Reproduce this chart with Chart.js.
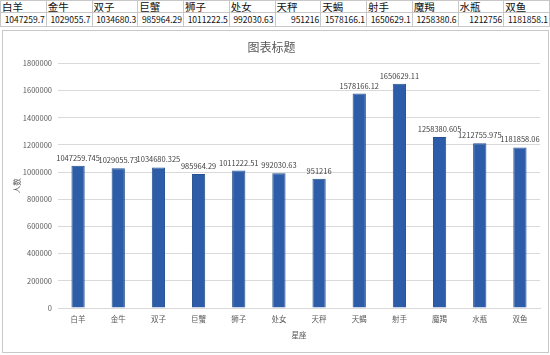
<!DOCTYPE html>
<html>
<head>
<meta charset="utf-8">
<script src="https://cdn.jsdelivr.net/npm/chart.js@4"></script>
<style>
body { margin: 0; background: #fff; width: 550px; height: 355px; overflow: hidden; font-family: "Noto Sans CJK SC", sans-serif; }
#tbl { position: absolute; left: 0; top: 0; border-collapse: collapse; table-layout: fixed; width: 550px; }
#tbl td { border: 1px solid #c8c8c8; padding: 0 1px; font-size: 10.5px; line-height: 11px; height: 11px; white-space: nowrap; overflow: hidden; color: #111; }
#tbl tr.v td { text-align: right; font-size: 8.5px; height: 13px; }
#box { position: absolute; left: 2px; top: 30px; width: 545px; height: 321px; border: 1px solid #c8c8c8; }
</style>
</head>
<body>
<table id="tbl"><tr id="hd"></tr><tr class="v" id="vl"></tr></table>
<div id="box"><canvas id="myChart" width="545" height="321"></canvas></div>
<script>
var signs = ["白羊", "金牛", "双子", "巨蟹", "狮子", "处女", "天秤", "天蝎", "射手", "魔羯", "水瓶", "双鱼"];
var people = [1047259.745, 1029055.73, 1034680.325, 985964.29, 1011222.51, 992030.63, 951216, 1578166.12, 1650629.11, 1258380.605, 1212755.975, 1181858.06];
var tableVals = ["1047259.7", "1029055.7", "1034680.3", "985964.29", "1011222.5", "992030.63", "951216", "1578166.1", "1650629.1", "1258380.6", "1212756", "1181858.1"];

var hd = document.getElementById("hd");
var vl = document.getElementById("vl");
for (var i = 0; i < signs.length; i++) {
	var a = document.createElement("td");
	a.textContent = signs[i];
	hd.appendChild(a);
	var b = document.createElement("td");
	b.textContent = tableVals[i];
	vl.appendChild(b);
}

// value labels above the bars
var barLabels = {
	id: "barLabels",
	afterDatasetsDraw: function (chart) {
		var ctx = chart.ctx;
		var meta = chart.getDatasetMeta(0);
		ctx.save();
		ctx.font = "7.5px 'Noto Sans CJK SC', sans-serif";
		ctx.fillStyle = "#404040";
		ctx.textAlign = "center";
		ctx.textBaseline = "bottom";
		meta.data.forEach(function (bar, i) {
			ctx.fillText(String(people[i]), bar.x, bar.y - 4);
		});
		ctx.restore();
	}
};

var tickFont = { family: "'Noto Sans CJK SC', sans-serif", size: 7.5 };

new Chart("myChart", {
	type: "bar",
	data: {
		labels: signs,
		datasets: [
			{
				backgroundColor: "#2d5ca8",
				borderColor: "#24508f",
				borderWidth: 1,
				data: people,
				barPercentage: 0.33,
				categoryPercentage: 1
			}
		]
	},
	options: {
		responsive: false,
		animation: false,
		layout: { padding: { left: 0, right: 8, top: 0, bottom: 0 } },
		plugins: {
			legend: { display: false },
			tooltip: { enabled: false },
			title: {
				display: true,
				text: "图表标题",
				color: "#595959",
				font: { family: "'Noto Sans CJK SC', sans-serif", size: 12, weight: "normal" },
				padding: { top: 9, bottom: 9 }
			}
		},
		scales: {
			x: {
				afterFit: function (s) { s.height = 44; },
				grid: { display: false, drawTicks: false },
				border: { color: "#d9d9d9" },
				ticks: { color: "#595959", font: tickFont, padding: 7, maxRotation: 0, autoSkip: false },
				title: { display: true, text: "星座", color: "#595959", font: tickFont, padding: { top: 0, bottom: 12 } }
			},
			y: {
				afterFit: function (s) { s.width = 55; },
				min: 0,
				max: 1800000,
				grid: { color: "#d9d9d9", drawTicks: false },
				border: { display: false },
				ticks: {
					stepSize: 200000,
					color: "#595959",
					font: tickFont,
					padding: 6,
					callback: function (v) { return String(v); }
				},
				title: { display: true, text: "人数", color: "#595959", font: tickFont, padding: { top: 10, bottom: 0 } }
			}
		}
	},
	plugins: [barLabels]
});
</script>
</body>
</html>
